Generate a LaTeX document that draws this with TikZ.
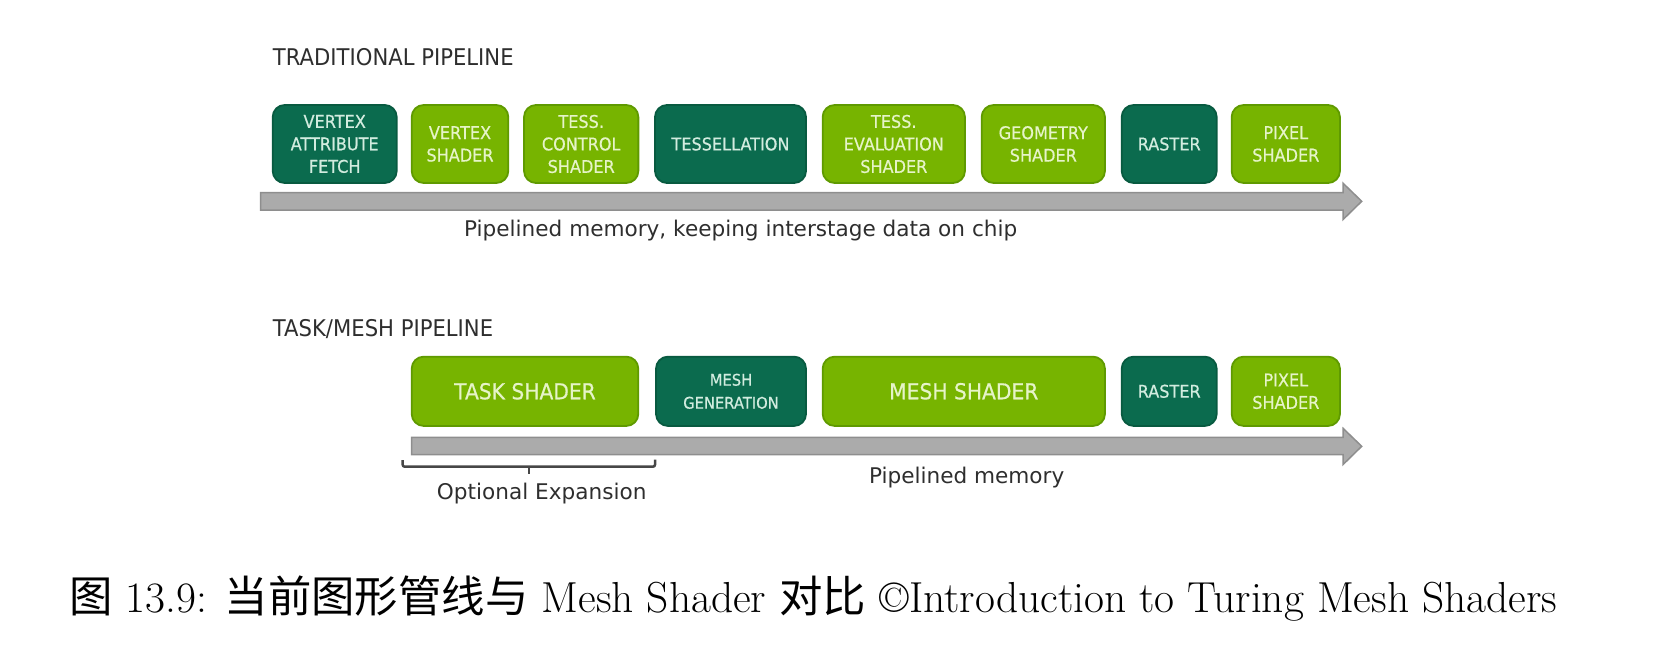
\documentclass[tikz,border=0pt]{standalone}
\usepackage{fontspec}
\newfontfamily\capf[FakeStretch=0.92]{DejaVu Sans}
\newfontfamily\boxf[FakeStretch=0.92,FakeBold=0.6]{DejaVu Sans}
\newfontfamily\txtf{DejaVu Sans}
\newfontfamily\cjk{Noto Sans CJK SC}
\definecolor{dgreen}{HTML}{0B6B4E}
\definecolor{dgreenb}{HTML}{085A40}
\definecolor{lgreen}{HTML}{77B400}
\definecolor{lgreenb}{HTML}{5F9A00}
\definecolor{dtext}{HTML}{D2ECDF}
\definecolor{ltext}{HTML}{E6F4C8}
\definecolor{barfill}{HTML}{ABABAB}
\definecolor{bardraw}{HTML}{8E8E8E}
\definecolor{labtext}{HTML}{2E2E2E}
\begin{document}
\begin{tikzpicture}[x=1pt,y=-1pt,
  box/.style={rounded corners=12pt, line width=1.8pt, inner sep=0pt, align=center,
    font=\boxf\fontsize{17.5}{22.5}\selectfont},
  dbox/.style={box, fill=dgreen, draw=dgreenb, text=dtext},
  lbox/.style={box, fill=lgreen, draw=lgreenb, text=ltext},
  title/.style={anchor=base west, inner sep=0pt, text=labtext, font=\capf\fontsize{23}{27}\selectfont},
  note/.style={anchor=base, inner sep=0pt, text=labtext, font=\txtf\fontsize{21.6}{26}\selectfont},
  bar/.style={fill=barfill, draw=bardraw, line width=1.5pt, line join=miter},
  brace/.style={draw=black!72, line width=2.5pt, rounded corners=2pt}
]
\useasboundingbox (0,0) rectangle (1666,650);

% ---------- traditional pipeline ----------
\node[title] (t1) at (272.7,66) {TRADITIONAL PIPELINE};

\node[dbox, minimum width=124, minimum height=78] (vaf) at (334.7,144) {VERTEX\\ATTRIBUTE\\FETCH};
\node[lbox, minimum width=96.6, minimum height=78] (vs) at (460,144) {VERTEX\\SHADER};
\node[lbox, minimum width=114.3, minimum height=78] (tcs) at (581.2,144) {TESS.\\CONTROL\\SHADER};
\node[dbox, minimum width=151, minimum height=78] (tess) at (730.5,144) {TESSELLATION};
\node[lbox, minimum width=142.3, minimum height=78] (tes) at (893.8,144) {TESS.\\EVALUATION\\SHADER};
\node[lbox, minimum width=123.3, minimum height=78] (gs) at (1043.3,144) {GEOMETRY\\SHADER};
\node[dbox, minimum width=95, minimum height=78] (ras1) at (1169.2,144) {RASTER};
\node[lbox, minimum width=108.3, minimum height=78] (pix1) at (1285.8,144) {PIXEL\\SHADER};

\path[bar] (260.7,192.6) -- (1343,192.6) -- (1343,183.2) -- (1361.7,201.3)
  -- (1343,219.6) -- (1343,210) -- (260.7,210) -- cycle;

\node[note] (m1) at (740.7,236.7) {Pipelined memory, keeping interstage data on chip};

% ---------- task/mesh pipeline ----------
\node[title] (t2) at (272.7,336.7) {TASK/MESH PIPELINE};

\node[lbox, minimum width=226.6, minimum height=69.3, font=\boxf\fontsize{22}{26}\selectfont] (task) at (525,391.3) {TASK SHADER};
\node[dbox, minimum width=150, minimum height=69.3, font=\boxf\fontsize{16}{23}\selectfont] (mgen) at (731,391.3) {MESH\\GENERATION};
\node[lbox, minimum width=282.3, minimum height=69.3, font=\boxf\fontsize{22}{26}\selectfont] (mesh) at (963.8,391.3) {MESH SHADER};
\node[dbox, minimum width=95, minimum height=69.3] (ras2) at (1169.2,391.3) {RASTER};
\node[lbox, minimum width=108.3, minimum height=69.3] (pix2) at (1285.8,391.3) {PIXEL\\SHADER};

\path[bar] (411.7,437.3) -- (1343,437.3) -- (1343,428.3) -- (1361.7,446.3)
  -- (1343,464.6) -- (1343,454.6) -- (411.7,454.6) -- cycle;

\coordinate (bl) at (402.7,460);
\coordinate (br) at (655,459.6);
\coordinate (bm) at (529,466.7);
\draw[brace] (bl) -- (bl |- bm) -- (br |- bm) -- (br);
\draw[brace] (bm) -- ++(0,6.8);

\node[note] (opt) at (541.7,499.3) {Optional Expansion};
\node[note] (m2) at (966.7,483.3) {Pipelined memory};

% ---------- caption ----------
\node[anchor=base west, inner sep=0pt, font=\fontsize{43.4}{50}\selectfont] (cap) at (69,612)
  {{\cjk 图} 13.9: {\cjk 当前图形管线与} Mesh Shader {\cjk 对比} ©Introduction to Turing Mesh Shaders};
\end{tikzpicture}
\end{document}
